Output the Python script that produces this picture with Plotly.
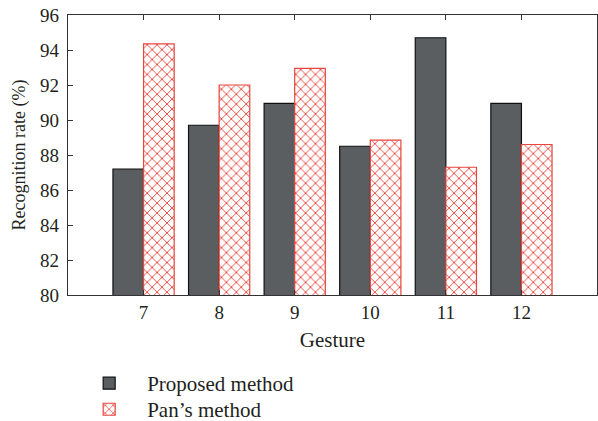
import plotly.graph_objects as go

gestures = [7, 8, 9, 10, 11, 12]
proposed = [87.2, 89.7, 90.95, 88.5, 94.7, 90.95]
pans = [94.35, 92.0, 92.95, 88.85, 87.3, 88.6]
y_ticks = [80, 82, 84, 86, 88, 90, 92, 94, 96]

FONT = "Liberation Serif"
RED = "#e8453c"

fig = go.Figure()
fig.add_trace(go.Bar(
    x=gestures, y=proposed, name="Proposed method", legend="legend", showlegend=True,
    marker=dict(color="#5a5e61", line=dict(color="#111111", width=1.2)),
))
fig.add_trace(go.Bar(
    x=gestures, y=pans, name="Pan\u2019s method", legend="legend2", showlegend=True,
    marker=dict(color="white", line=dict(color=RED, width=1.2),
                pattern=dict(shape="x", fgcolor=RED, bgcolor="white",
                             size=7, solidity=0.25, fillmode="replace")),
))

legend_style = dict(orientation="v", x=0.006, xanchor="left", yanchor="top",
                    itemwidth=66, font=dict(family=FONT, size=21, color="#231f20"),
                    bgcolor="rgba(0,0,0,0)")

fig.update_layout(
    width=598, height=421,
    showlegend=True,
    margin=dict(l=68, r=1, t=15, b=126, autoexpand=False),
    paper_bgcolor="white", plot_bgcolor="white",
    barmode="group", bargap=0.19, bargroupgap=0,
    font=dict(family=FONT, size=19, color="#231f20"),
    legend=dict(legend_style, y=-0.243),
    legend2=dict(legend_style, y=-0.336),
    xaxis=dict(range=[6, 13], tickvals=gestures, ticktext=[str(g) for g in gestures],
               ticks="inside", ticklen=5, tickcolor="#333", showline=True,
               linecolor="#333", linewidth=1.2, mirror="ticks", showgrid=False,
               zeroline=False, tickfont=dict(size=19), automargin=False,
               title=dict(text="Gesture", font=dict(size=21), standoff=10)),
    yaxis=dict(range=[80, 96], tickvals=y_ticks, ticks="inside", ticklen=5,
               tickcolor="#333", showline=True, linecolor="#333", linewidth=1.2,
               mirror=True, showgrid=False, zeroline=False, tickfont=dict(size=19),
               ticklabelstandoff=4, automargin=False,
               title=dict(text="Recognition rate (%)", font=dict(size=18), standoff=9)),
)

fig.write_html("out.html")
